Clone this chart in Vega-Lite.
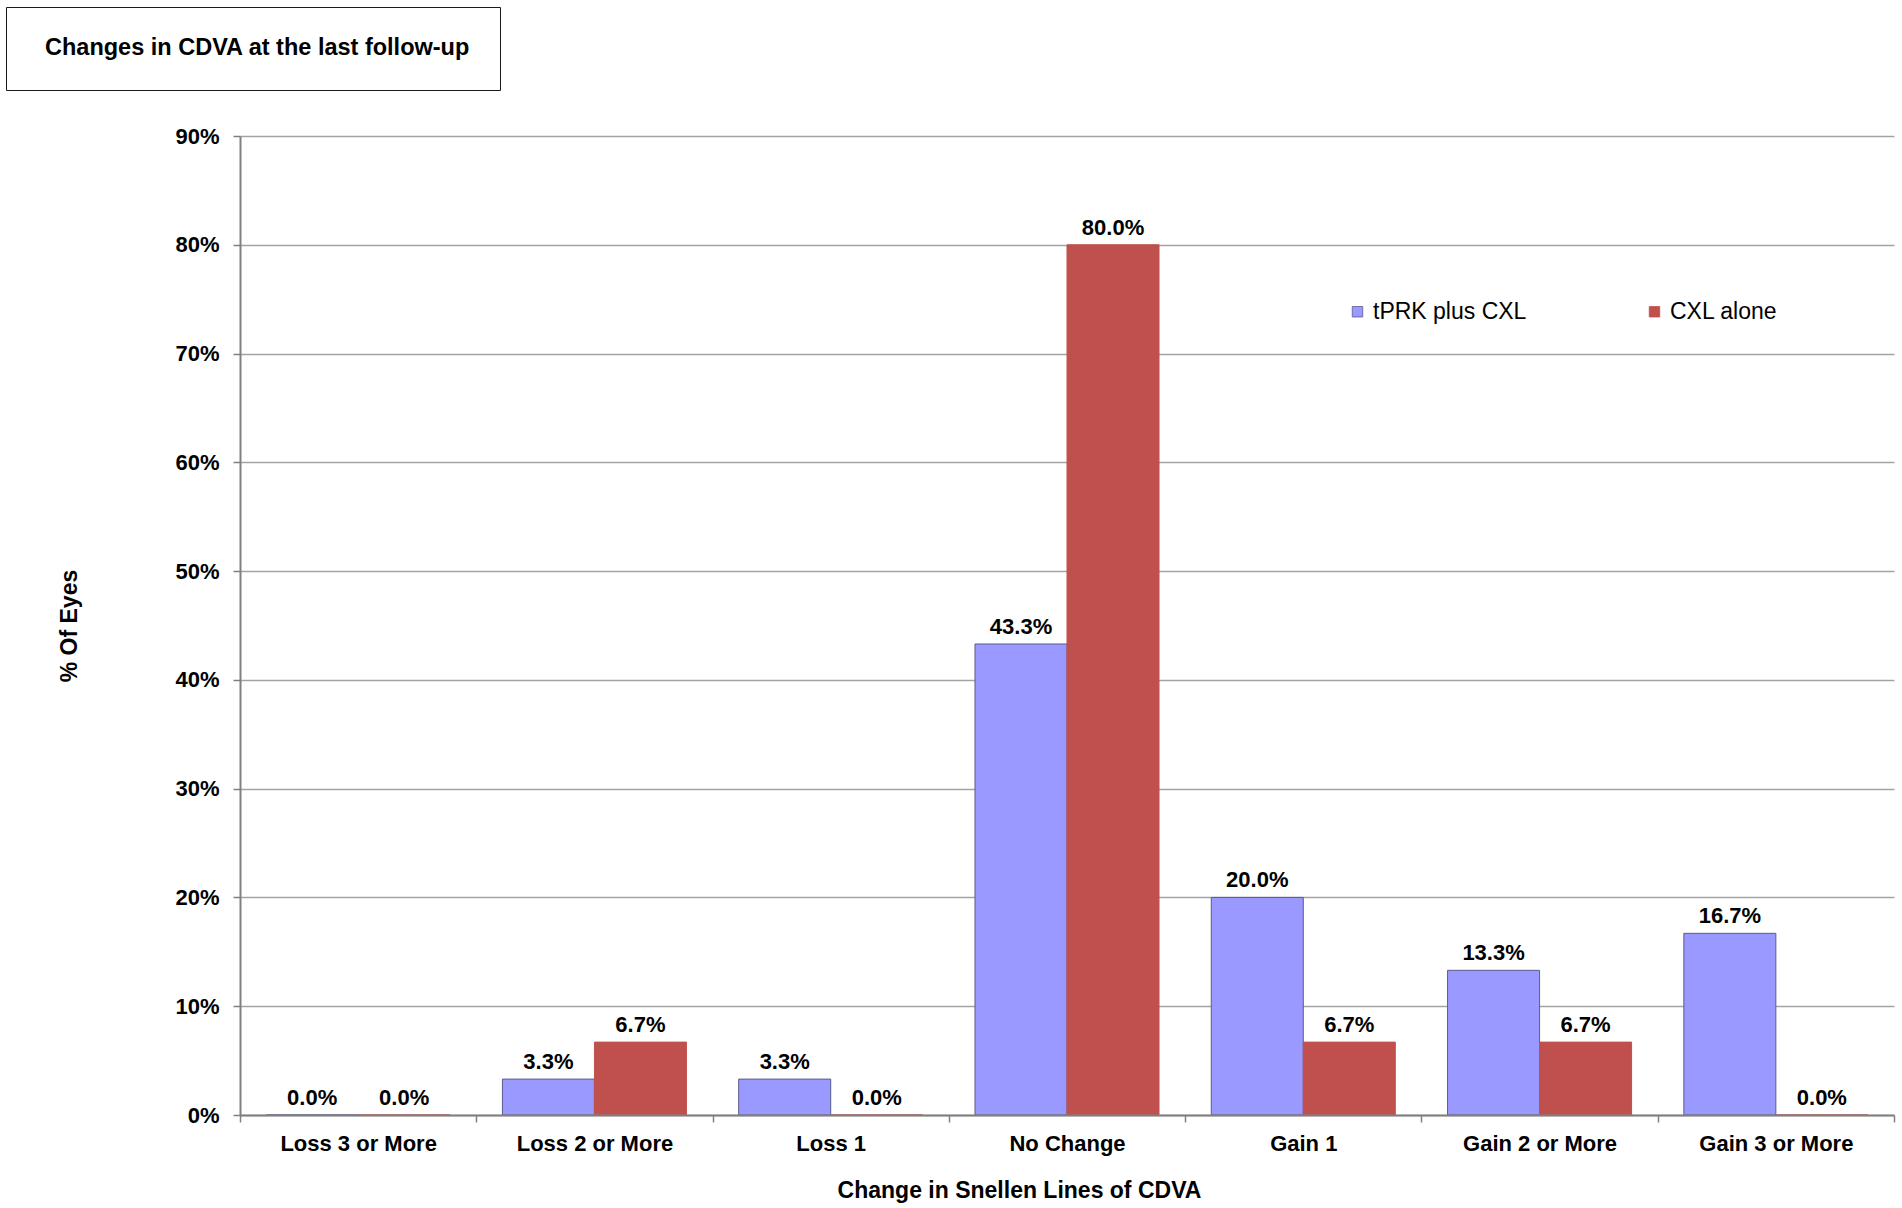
{
  "$schema": "https://vega.github.io/schema/vega-lite/v6.json",
  "autosize": {"type": "none"},
  "padding": {"left": 240, "top": 136, "right": 8, "bottom": 93},
  "width": 1654,
  "height": 979,
  "background": "white",
  "config": {
    "font": "Liberation Sans",
    "view": {"stroke": null},
    "axis": {"labelColor": "black", "titleColor": "black", "domainColor": "#808080", "tickColor": "#808080", "domainWidth": 2, "tickWidth": 1.5}
  },
  "data": {
    "values": [
      {"change": "Loss 3 or More", "group": "tPRK plus CXL", "pct": 0.0},
      {"change": "Loss 3 or More", "group": "CXL alone", "pct": 0.0},
      {"change": "Loss 2 or More", "group": "tPRK plus CXL", "pct": 0.033},
      {"change": "Loss 2 or More", "group": "CXL alone", "pct": 0.067},
      {"change": "Loss 1", "group": "tPRK plus CXL", "pct": 0.033},
      {"change": "Loss 1", "group": "CXL alone", "pct": 0.0},
      {"change": "No Change", "group": "tPRK plus CXL", "pct": 0.433},
      {"change": "No Change", "group": "CXL alone", "pct": 0.8},
      {"change": "Gain 1", "group": "tPRK plus CXL", "pct": 0.2},
      {"change": "Gain 1", "group": "CXL alone", "pct": 0.067},
      {"change": "Gain 2 or More", "group": "tPRK plus CXL", "pct": 0.133},
      {"change": "Gain 2 or More", "group": "CXL alone", "pct": 0.067},
      {"change": "Gain 3 or More", "group": "tPRK plus CXL", "pct": 0.167},
      {"change": "Gain 3 or More", "group": "CXL alone", "pct": 0.0}
    ]
  },
  "encoding": {
    "x": {
      "field": "change",
      "type": "nominal",
      "sort": ["Loss 3 or More", "Loss 2 or More", "Loss 1", "No Change", "Gain 1", "Gain 2 or More", "Gain 3 or More"],
      "scale": {"paddingInner": 0, "paddingOuter": 0},
      "axis": {
        "title": "Change in Snellen Lines of CDVA",
        "titleFontSize": 23,
        "titleFontWeight": "bold",
        "titleX": 779,
        "titleY": 82,
        "titleBaseline": "alphabetic",
        "labelAngle": 0,
        "labelFontSize": 22,
        "labelFontWeight": "bold",
        "labelBaseline": "alphabetic",
        "labelPadding": 28,
        "tickSize": 7,
        "tickBand": "extent",
        "grid": false,
        "zindex": 1
      }
    },
    "xOffset": {
      "field": "group",
      "type": "nominal",
      "sort": ["tPRK plus CXL", "CXL alone"],
      "scale": {"paddingInner": 0, "paddingOuter": 0.284}
    },
    "y": {
      "field": "pct",
      "type": "quantitative",
      "scale": {"domain": [0, 0.9]},
      "axis": {
        "title": "% Of Eyes",
        "titleFontSize": 23,
        "titleFontWeight": "bold",
        "titlePadding": 93,
        "values": [0, 0.1, 0.2, 0.3, 0.4, 0.5, 0.6, 0.7, 0.8, 0.9],
        "format": ".0%",
        "labelFontSize": 22,
        "labelFontWeight": "bold",
        "labelPadding": 14,
        "tickSize": 7,
        "grid": true,
        "gridColor": "#a3a3a3",
        "gridWidth": 1.5
      }
    }
  },
  "layer": [
    {
      "mark": {"type": "bar", "strokeWidth": 1},
      "encoding": {
        "color": {
          "field": "group",
          "type": "nominal",
          "sort": ["tPRK plus CXL", "CXL alone"],
          "scale": {"domain": ["tPRK plus CXL", "CXL alone"], "range": ["#9999FF", "#C0504D"]},
          "legend": {
            "title": null,
            "orient": "none",
            "direction": "horizontal",
            "legendX": 1106,
            "legendY": 164,
            "padding": 0,
            "columnPadding": 116,
            "labelFontSize": 23,
            "labelColor": "black",
            "labelOffset": 4,
            "symbolType": "square",
            "symbolSize": 110,
            "symbolStrokeWidth": 0.8,
            "symbolStrokeColor": "#6a6a8a"
          }
        },
        "stroke": {
          "field": "group",
          "type": "nominal",
          "scale": {"domain": ["tPRK plus CXL", "CXL alone"], "range": ["#5b5b8f", "#C0504D"]},
          "legend": null
        },
        "opacity": {
          "datum": "Changes in CDVA at the last follow-up",
          "type": "ordinal",
          "scale": {"range": [1, 1]},
          "legend": {
            "title": null,
            "orient": "none",
            "legendX": -234,
            "legendY": -129,
            "padding": 29.5,
            "strokeColor": "#1a1a1a",
            "fillColor": "white",
            "symbolType": "square",
            "symbolSize": 0,
            "symbolFillColor": "white",
            "symbolStrokeColor": "white",
            "symbolOpacity": 0,
            "symbolStrokeWidth": 0,
            "labelOffset": -14,
            "labelLimit": 800,
            "labelFontSize": 23.5,
            "labelFontWeight": "bold",
            "labelColor": "black"
          }
        }
      }
    },
    {
      "mark": {"type": "text", "fontSize": 22, "fontWeight": "bold", "color": "black", "baseline": "alphabetic", "dy": -10},
      "encoding": {"text": {"field": "pct", "type": "quantitative", "format": ".1%"}}
    }
  ]
}
